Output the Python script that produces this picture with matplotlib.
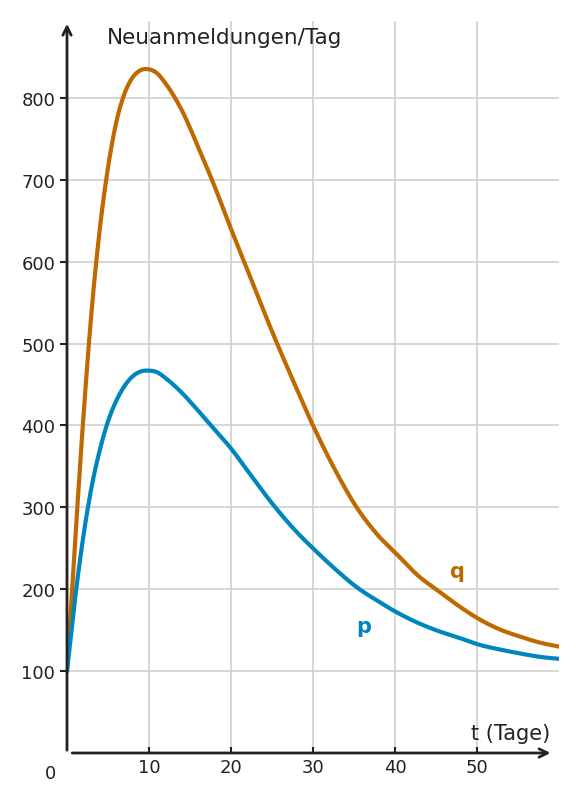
import numpy as np
import matplotlib
matplotlib.use("Agg")
from matplotlib import pyplot as plt

# values
t = [0, 1, 2, 3, 4, 5, 6, 7, 8, 9, 10, 11, 12, 14, 16, 18, 20, 22, 25, 28, 30,
     33, 35, 38, 40, 43, 45, 48, 50, 53, 55, 58, 60]
q = [100, 260, 410, 540, 640, 715, 770, 805, 825, 834, 835, 830, 818, 785, 740, 692,
     640, 590, 515, 445, 400, 340, 305, 265, 245, 215, 200, 178, 165, 150, 143, 134, 130]
p = [100, 190, 265, 325, 370, 405, 430, 448, 460, 466, 467, 465, 458, 440, 418, 395,
     372, 345, 305, 270, 250, 222, 205, 185, 173, 158, 150, 140, 133, 126, 122, 117, 115]
xticks = [10, 20, 30, 40, 50]
yticks = [100, 200, 300, 400, 500, 600, 700, 800]

col_q = "#bf6a00"
col_p = "#0086bd"
txt = "#222222"


def smooth(xs, ys, n=20):
    # cubic hermite through the read points, slopes from neighbours
    xs = np.asarray(xs, float)
    ys = np.asarray(ys, float)
    m = np.gradient(ys, xs)
    ox, oy = [], []
    for i in range(len(xs) - 1):
        h = xs[i + 1] - xs[i]
        s = np.linspace(0, 1, n, endpoint=False)
        h00 = 2*s**3 - 3*s**2 + 1
        h10 = s**3 - 2*s**2 + s
        h01 = -2*s**3 + 3*s**2
        h11 = s**3 - s**2
        ox.extend(xs[i] + s*h)
        oy.extend(h00*ys[i] + h10*h*m[i] + h01*ys[i+1] + h11*h*m[i+1])
    ox.append(xs[-1])
    oy.append(ys[-1])
    return ox, oy


fig = plt.figure(figsize=(5.76, 8.03), dpi=100)
ax = fig.add_axes([67/576, 49/803, 492/576, 732/803])
ax.set_xlim(0, 60)
ax.set_ylim(0, 894)

ax.plot(*smooth(t, q), color=col_q, lw=3, solid_capstyle="round", zorder=3)
ax.plot(*smooth(t, p), color=col_p, lw=3, solid_capstyle="round", zorder=3)

for x in xticks:
    ax.axvline(x, color="#d0d0d0", lw=1.2, zorder=1)
for y in yticks:
    ax.axhline(y, color="#d0d0d0", lw=1.2, zorder=1)

for s in ax.spines.values():
    s.set_visible(False)
ax.set_xticks(xticks)
ax.set_yticks(yticks)
ax.tick_params(colors=txt, labelsize=13, length=5, width=1.5, direction="out")
ax.tick_params(axis="x", direction="in", length=4)

ax.annotate("", xy=(59.3, 0), xytext=(0.3, 0), xycoords="data",
            arrowprops=dict(arrowstyle="->", color=txt, lw=2, mutation_scale=15),
            annotation_clip=False)
ax.annotate("", xy=(0, 894), xytext=(0, 0), xycoords="data",
            arrowprops=dict(arrowstyle="->", color=txt, lw=2, mutation_scale=15),
            annotation_clip=False)

ax.text(4.9, 875, "Neuanmeldungen/Tag", fontsize=15.5, color=txt, va="center")
ax.text(58.9, 25, "t (Tage)", fontsize=15, color=txt, ha="right", va="center")
ax.text(-2, -25, "0", fontsize=13, color=txt, ha="center", va="center")
ax.text(47.5, 222, "q", fontsize=15, color=col_q, fontweight="bold", ha="center", va="center")
ax.text(36.2, 155, "p", fontsize=15, color=col_p, fontweight="bold", ha="center", va="center")

fig.savefig("out.png", dpi=100)
